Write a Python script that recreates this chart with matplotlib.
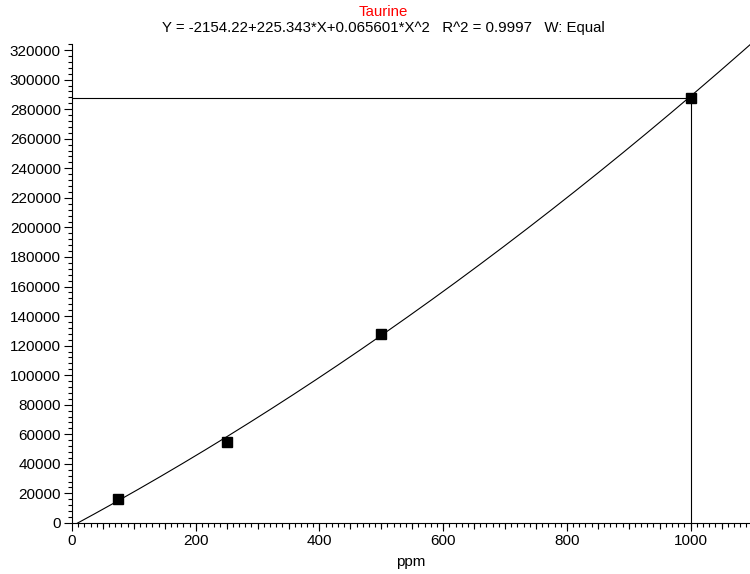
import numpy as np
import matplotlib
matplotlib.use("Agg")
import matplotlib.pyplot as plt
from matplotlib.ticker import MultipleLocator

# calibration standards (ppm, area)
conc = [75, 250, 500, 1000]
area = [16000, 54600, 127900, 287500]

# quadratic fit coefficients from the header
c0, c1, c2 = -2154.22, 225.343, 0.065601
r2 = 0.9997
x_sample = 1000
y_sample = 287500

plt.rcParams['font.family'] = ['Liberation Sans', 'DejaVu Sans']
plt.rcParams['font.size'] = 11

fig = plt.figure(figsize=(7.5, 5.74), dpi=100)
ax = fig.add_axes([0.096, 0.089, 0.904, 0.834])

xx = np.linspace(0, 1100, 400)
ax.plot(xx, c0 + c1 * xx + c2 * xx**2, color='black', lw=0.8)
ax.plot(conc, area, 's', color='black', ms=6.5)

ax.plot([0, x_sample], [y_sample, y_sample], color='black', lw=0.8)
ax.plot([x_sample, x_sample], [0, y_sample], color='black', lw=0.8)

ax.set_xlim(0, 1096)
ax.set_ylim(0, 324000)
for s in ['top', 'right']:
    ax.spines[s].set_visible(False)

ax.xaxis.set_major_locator(MultipleLocator(200))
ax.xaxis.set_minor_locator(MultipleLocator(10))
ax.yaxis.set_major_locator(MultipleLocator(20000))
ax.yaxis.set_minor_locator(MultipleLocator(4000))
ax.tick_params(which='major', length=6, width=0.8, labelsize=11, pad=2)
ax.tick_params(which='minor', length=3, width=0.8)

# medium ticks every 50 ppm
sec = ax.secondary_xaxis('bottom')
sec.set_xticks(np.arange(50, 1100, 50))
sec.tick_params(length=4.5, width=0.8, labelbottom=False)
sec.spines['bottom'].set_visible(False)

ax.set_xlabel('ppm', fontsize=11, labelpad=5)

fig.text(0.511, 0.979, 'Taurine', color='red', ha='center', va='center', fontsize=10.8)
fig.text(0.511, 0.951,
         f'Y = {c0}+{c1}*X+{c2}*X^2   R^2 = {r2}   W: Equal',
         ha='center', va='center', fontsize=10.8)

fig.savefig('out.png', dpi=100)
